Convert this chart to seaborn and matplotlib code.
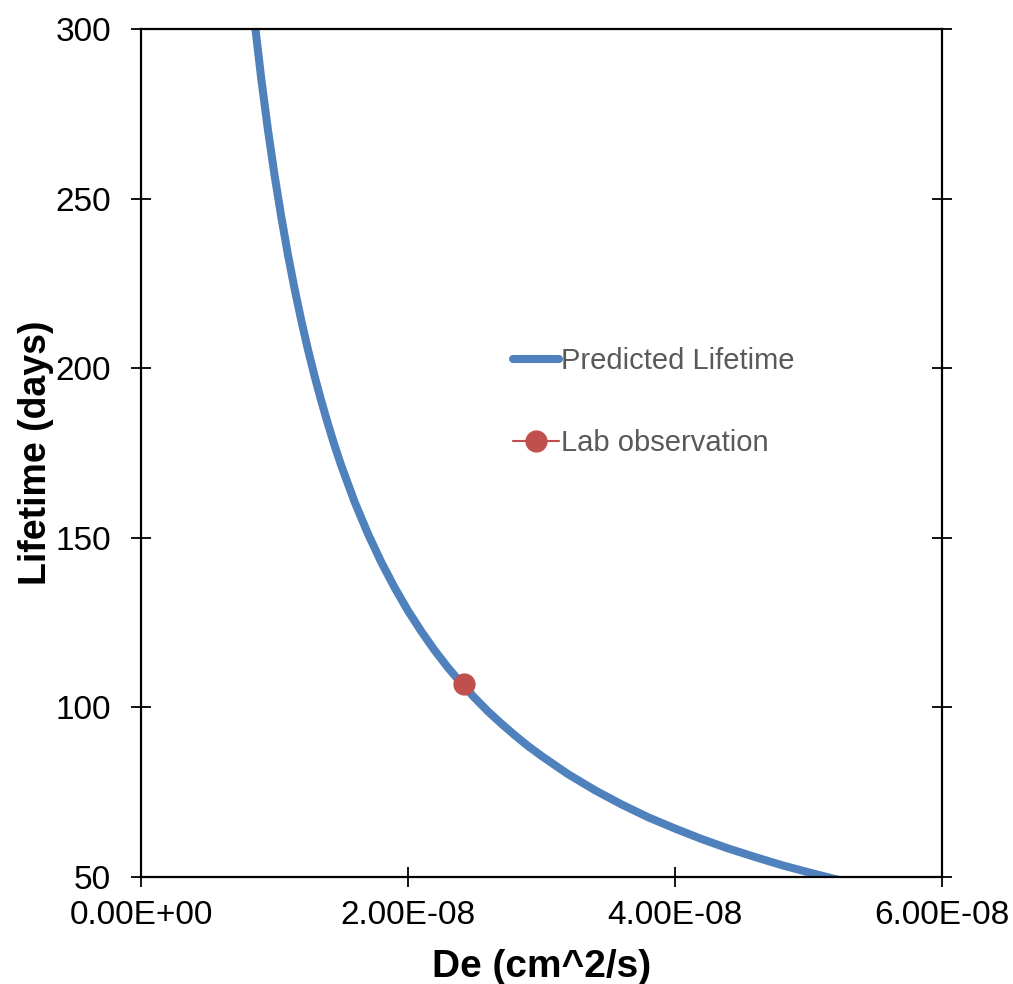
import matplotlib
matplotlib.use("Agg")
import matplotlib.pyplot as plt
from matplotlib.ticker import FuncFormatter, MultipleLocator
import pandas as pd
import seaborn as sns

# Predicted lifetime curve (De in cm^2/s, lifetime in days)
de_values = [0.85e-8, 0.90e-8, 0.95e-8, 1.00e-8, 1.05e-8, 1.10e-8, 1.15e-8, 1.20e-8,
             1.25e-8, 1.30e-8, 1.35e-8, 1.40e-8, 1.45e-8, 1.50e-8, 1.60e-8, 1.70e-8,
             1.80e-8, 1.90e-8, 2.00e-8, 2.10e-8, 2.20e-8, 2.30e-8, 2.40e-8, 2.50e-8,
             2.60e-8, 2.70e-8, 2.80e-8, 2.90e-8, 3.00e-8, 3.20e-8, 3.40e-8, 3.60e-8,
             3.80e-8, 4.00e-8, 4.20e-8, 4.40e-8, 4.60e-8, 4.80e-8, 5.00e-8, 5.20e-8,
             5.30e-8]
lifetime_days = [302.4, 285.6, 270.5, 257.0, 244.8, 233.6, 223.5, 214.2,
                 205.6, 197.7, 190.4, 183.6, 177.2, 171.3, 160.6, 151.2,
                 142.8, 135.3, 128.5, 122.4, 116.8, 111.7, 107.1, 102.8,
                 98.8, 95.2, 91.8, 88.6, 85.7, 80.3, 75.6, 71.4,
                 67.6, 64.3, 61.2, 58.4, 55.9, 53.5, 51.4, 49.4,
                 48.5]

# Lab observation
obs_de = [2.42e-8]
obs_lifetime = [106.8]

curve = pd.DataFrame({"De": de_values, "Lifetime": lifetime_days})
obs = pd.DataFrame({"De": obs_de, "Lifetime": obs_lifetime})

sns.set_theme(style="white")
plt.rcParams["font.family"] = ["Liberation Sans", "DejaVu Sans"]

fig, ax = plt.subplots(figsize=(10.13, 9.84), dpi=100)
fig.subplots_adjust(left=0.1392, right=0.9299, top=0.9705, bottom=0.1087)

sns.lineplot(data=curve, x="De", y="Lifetime", color="#4F81BD", linewidth=5.8,
             sort=False, ax=ax, label="Predicted Lifetime", solid_capstyle="round")
sns.lineplot(data=obs, x="De", y="Lifetime", color="#C0504D", linewidth=1.5,
             marker="o", markersize=16, markeredgewidth=0, ax=ax,
             label="Lab observation")

ax.set_xlim(0, 6e-8)
ax.set_ylim(50, 300)
ax.xaxis.set_major_locator(MultipleLocator(2e-8))
ax.yaxis.set_major_locator(MultipleLocator(50))
ax.xaxis.set_major_formatter(FuncFormatter(lambda v, p: f"{v:.2E}"))

for s in ax.spines.values():
    s.set_color("black")
    s.set_linewidth(1.6)

ax.tick_params(axis="both", direction="inout", length=15, width=1.3, color="black",
               labelsize=24, labelcolor="black")
ax.tick_params(axis="y", left=True, right=True, pad=14)
ax.tick_params(axis="x", bottom=True, top=False, pad=9)

ax.set_xlabel("De (cm^2/s)", fontsize=28, fontweight="bold", color="black", labelpad=13)
ax.set_ylabel("Lifetime (days)", fontsize=27, fontweight="bold", color="black", labelpad=1)

ax.legend(loc="upper left", bbox_to_anchor=(0.446, 0.642), frameon=False,
          fontsize=21, labelcolor="#595959", handlelength=1.6, handletextpad=0.05,
          labelspacing=1.85, borderpad=0)

fig.savefig("out.png", dpi=100)
